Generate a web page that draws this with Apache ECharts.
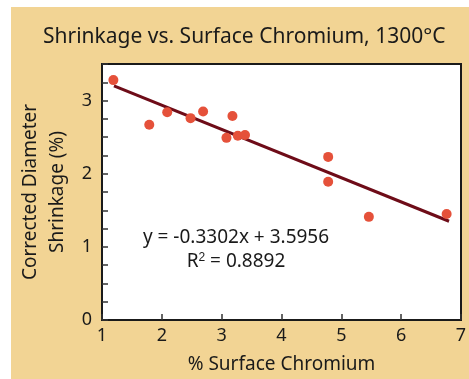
<!DOCTYPE html>
<html>
<head>
<meta charset="utf-8">
<script src="https://cdn.jsdelivr.net/npm/echarts@6/dist/echarts.min.js"></script>
<style>
  html, body { margin: 0; padding: 0; background: #fff; }
  #chart { position: absolute; left: 11px; top: 7px; width: 458px; height: 372px; }
</style>
</head>
<body>
<div id="chart"></div>
<script>
// measured points: % surface chromium vs corrected diameter shrinkage (%)
const chromium = [1.19, 1.79, 2.09, 2.48, 2.69, 3.18, 3.08, 3.27, 3.39, 4.78, 4.78, 5.46, 6.76]
const shrinkage = [3.28, 2.67, 2.84, 2.76, 2.85, 2.79, 2.49, 2.52, 2.53, 2.23, 1.89, 1.41, 1.45]
// trend line endpoints as drawn
const trendX = [1.2, 6.8]
const trendY = [3.2, 1.35]
const yLabels = [0, 1, 2, 3]

const FONT = 'Noto Sans'
const chart = echarts.init(document.getElementById('chart'))

chart.setOption({
  backgroundColor: '#f2d494',
  animation: false,
  textStyle: { fontFamily: FONT },
  title: {
    text: 'Shrinkage vs. Surface Chromium, 1300°C',
    left: 27,
    top: 15,
    textStyle: { fontFamily: FONT, fontSize: 21, fontWeight: 'normal', color: '#1a1a1a' }
  },
  grid: {
    left: 91, right: 8, top: 57, bottom: 59,
    containLabel: false,
    outerBoundsMode: 'none',
    show: true,
    backgroundColor: '#fff',
    borderColor: '#1a1a1a',
    borderWidth: 2
  },
  xAxis: {
    type: 'value',
    min: 1, max: 7, interval: 1,
    name: '% Surface Chromium',
    nameLocation: 'middle',
    nameGap: 35,
    nameTextStyle: { fontSize: 19, color: '#1a1a1a' },
    axisLine: { lineStyle: { color: '#1a1a1a', width: 2 } },
    axisTick: { inside: true, length: 6, lineStyle: { color: '#333', width: 1.5 } },
    axisLabel: { fontSize: 18, color: '#1a1a1a', margin: 7 },
    splitLine: { show: false }
  },
  yAxis: {
    type: 'value',
    min: 0, max: 3.5, interval: 0.25,
    name: 'Corrected Diameter\nShrinkage (%)',
    nameLocation: 'middle',
    nameGap: 25,
    nameTextStyle: { fontSize: 19, color: '#1a1a1a', lineHeight: 27 },
    axisLine: { lineStyle: { color: '#1a1a1a', width: 2 } },
    axisTick: { inside: true, length: 6, lineStyle: { color: '#333', width: 1.5 } },
    axisLabel: {
      fontSize: 18, color: '#1a1a1a', margin: 10,
      formatter: v => (yLabels.includes(v) ? String(v) : '')
    },
    splitLine: { show: false }
  },
  series: [
    {
      type: 'line',
      data: trendX.map((x, i) => [x, trendY[i]]),
      symbol: 'none',
      lineStyle: { color: '#6e0c18', width: 3 },
      z: 2
    },
    {
      type: 'scatter',
      data: chromium.map((x, i) => [x, shrinkage[i]]),
      symbolSize: 10,
      itemStyle: { color: '#e5513a', opacity: 1 },
      z: 3
    }
  ],
  graphic: [
    {
      type: 'text',
      x: 225, y: 231,
      style: {
        text: 'y = -0.3302x + 3.5956',
        font: '19px "Noto Sans"',
        fill: '#1a1a1a',
        align: 'center',
        verticalAlign: 'middle'
      }
    },
    {
      type: 'text',
      x: 225, y: 255,
      style: {
        text: 'R{sup|2} = 0.8892',
        font: '19px "Noto Sans"',
        fill: '#1a1a1a',
        align: 'center',
        verticalAlign: 'middle',
        rich: {
          sup: { fontSize: 12, verticalAlign: 'top', padding: [0, 0, 9, 0], fill: '#1a1a1a' }
        }
      }
    }
  ]
})
</script>
</body>
</html>
